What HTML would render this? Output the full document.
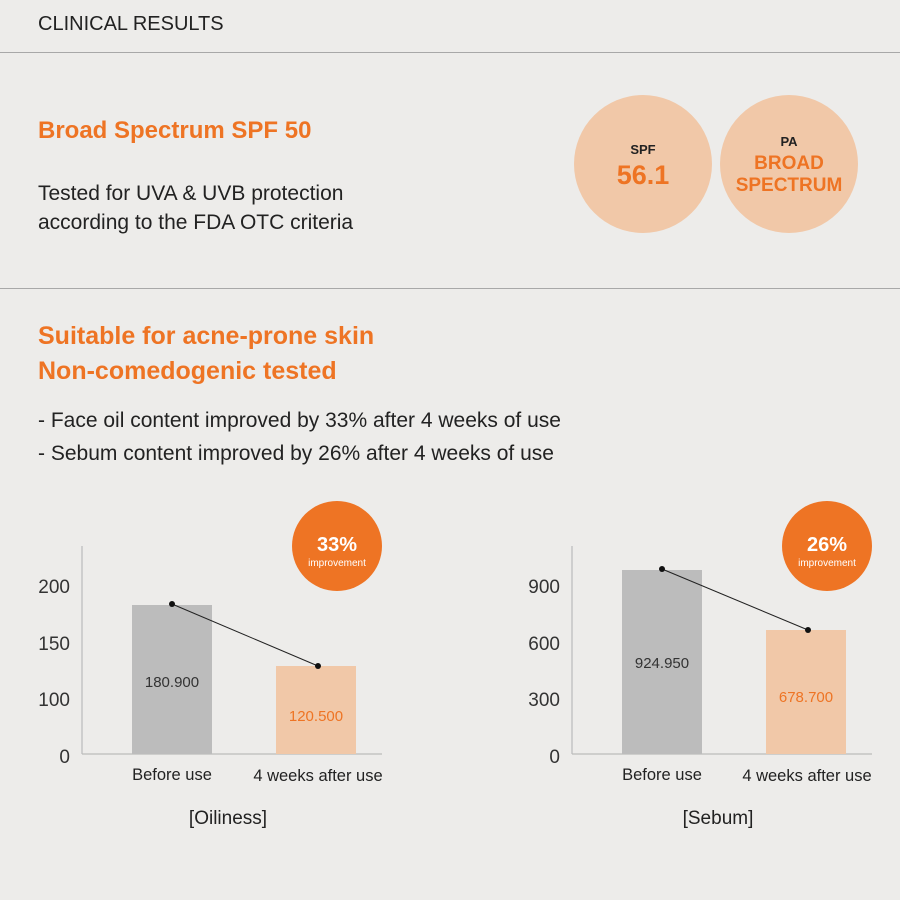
<!DOCTYPE html>
<html><head><style>
body{margin:0;width:900px;height:900px;background:#edecea;font-family:"Liberation Sans",sans-serif;position:relative;overflow:hidden;color:#222}
.a{position:absolute;white-space:nowrap}
.hr{position:absolute;left:0;width:900px;height:1px;background:#a8a8a8}
.or{color:#ee7424;font-weight:bold}
.circ{position:absolute;border-radius:50%;background:#f1c8a8;text-align:center}
</style></head><body>
<div class="a" style="left:38px;top:13px;font-size:20px;">CLINICAL RESULTS</div>
<div class="hr" style="top:52px"></div>
<div class="a or" style="left:38px;top:117px;font-size:24px">Broad Spectrum SPF 50</div>
<div class="a" style="left:38px;top:179px;font-size:21px;line-height:29px">Tested for UVA &amp; UVB protection<br>according to the FDA OTC criteria</div>
<div class="circ" style="left:574px;top:95px;width:138px;height:138px"></div>
<div class="a" style="left:574px;width:138px;text-align:center;top:142px;font-size:13px;font-weight:bold">SPF</div>
<div class="a or" style="left:574px;width:138px;text-align:center;top:160px;font-size:27px">56.1</div>
<div class="circ" style="left:720px;top:95px;width:138px;height:138px"></div>
<div class="a" style="left:720px;width:138px;text-align:center;top:134px;font-size:13px;font-weight:bold">PA</div>
<div class="a or" style="left:720px;width:138px;text-align:center;top:153px;font-size:19px;line-height:22px">BROAD<br>SPECTRUM</div>
<div class="hr" style="top:288px"></div>
<div class="a or" style="left:38px;top:319px;font-size:25px;line-height:35px">Suitable for acne-prone skin<br>Non-comedogenic tested</div>
<div class="a" style="left:38px;top:404px;font-size:21px;line-height:33px">- Face oil content improved by 33% after 4 weeks of use<br>- Sebum content improved by 26% after 4 weeks of use</div>
<svg class="a" style="left:0;top:0" width="900" height="900" font-family="Liberation Sans, sans-serif">
<g fill="#333" font-size="19" text-anchor="end">
<text x="70" y="593">200</text><text x="70" y="650">150</text><text x="70" y="706">100</text><text x="70" y="763">0</text>
<text x="560" y="593">900</text><text x="560" y="650">600</text><text x="560" y="706">300</text><text x="560" y="763">0</text>
</g>
<g stroke="#bbb" stroke-width="1.2">
<line x1="82" y1="546" x2="82" y2="754"/><line x1="82" y1="754" x2="382" y2="754"/>
<line x1="572" y1="546" x2="572" y2="754"/><line x1="572" y1="754" x2="872" y2="754"/>
</g>
<rect x="132" y="605" width="80" height="149" fill="#bcbcbc"/>
<rect x="276" y="666" width="80" height="88" fill="#f1c8a8"/>
<rect x="622" y="570" width="80" height="184" fill="#bcbcbc"/>
<rect x="766" y="630" width="80" height="124" fill="#f1c8a8"/>
<line x1="172" y1="604" x2="318" y2="666" stroke="#222" stroke-width="1"/>
<line x1="662" y1="569" x2="808" y2="630" stroke="#222" stroke-width="1"/>
<g fill="#111"><circle cx="172" cy="604" r="3"/><circle cx="318" cy="666" r="3"/><circle cx="662" cy="569" r="3"/><circle cx="808" cy="630" r="3"/></g>
<g font-size="15" text-anchor="middle">
<text x="172" y="687" fill="#333">180.900</text><text x="316" y="721" fill="#ee7424">120.500</text>
<text x="662" y="668" fill="#333">924.950</text><text x="806" y="702" fill="#ee7424">678.700</text>
</g>
<g font-size="16.5" text-anchor="middle" fill="#222">
<text x="172" y="780">Before use</text><text x="318" y="781">4 weeks after use</text>
<text x="662" y="780">Before use</text><text x="807" y="781">4 weeks after use</text>
</g>
<g font-size="19" text-anchor="middle" fill="#222">
<text x="228" y="824">[Oiliness]</text><text x="718" y="824">[Sebum]</text>
</g>
<circle cx="337" cy="546" r="45" fill="#ee7424"/>
<circle cx="827" cy="546" r="45" fill="#ee7424"/>
<g fill="#fff" text-anchor="middle">
<text x="337" y="551" font-size="20" font-weight="bold">33%</text><text x="337" y="566" font-size="10">improvement</text>
<text x="827" y="551" font-size="20" font-weight="bold">26%</text><text x="827" y="566" font-size="10">improvement</text>
</g>
</svg>
</body></html>
